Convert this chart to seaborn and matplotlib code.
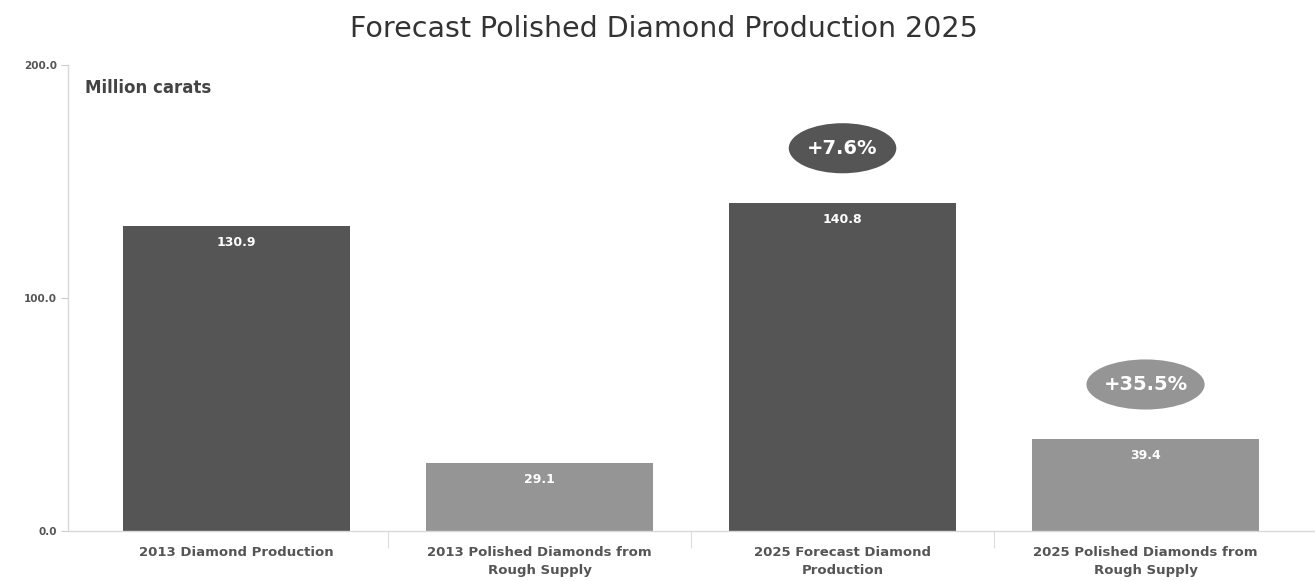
import matplotlib
matplotlib.use("Agg")
import matplotlib.pyplot as plt
from matplotlib.patches import Ellipse
from matplotlib.ticker import FixedLocator
import seaborn as sns
import pandas as pd

# Production figures, million carats
categories = [
    "2013 Diamond Production",
    "2013 Polished Diamonds from\nRough Supply",
    "2025 Forecast Diamond\nProduction",
    "2025 Polished Diamonds from\nRough Supply",
]
values = [130.9, 29.1, 140.8, 39.4]
value_labels = ["130.9", "29.1", "140.8", "39.4"]
growth_labels = ["+7.6%", "+35.5%"]
growth_index = [2, 3]
y_ticks = [0.0, 100.0, 200.0]

dark = "#555555"
light = "#959595"
bar_colors = [dark, light, dark, light]

sns.set_theme(style="white")
plt.rcParams["font.family"] = ["DejaVu Sans"]

df = pd.DataFrame({"category": categories, "value": values})

fig = plt.figure(figsize=(13.15, 5.81), dpi=100)
ax = fig.add_axes([0.052, 0.086, 0.947, 0.802])

sns.barplot(data=df, x="category", y="value", hue="category",
            palette=bar_colors, width=0.75, legend=False, ax=ax,
            saturation=1, edgecolor="none")

ax.set_xlim(-0.555, 3.555)
ax.set_ylim(0, 200)
ax.set_yticks(y_ticks)
ax.set_yticklabels([f"{t:.1f}" for t in y_ticks], fontsize=7.5,
                   fontweight="bold", color="#555555")
ax.tick_params(axis="y", length=5, width=0.8, color="#cccccc", pad=3, left=True)
ax.set_xticks(range(len(categories)))
ax.set_xticklabels(categories, fontsize=9.5, fontweight="bold", color="#555555",
                   linespacing=1.45)
ax.tick_params(axis="x", length=0, pad=11)
ax.xaxis.set_minor_locator(FixedLocator([0.5, 1.5, 2.5]))
ax.tick_params(axis="x", which="minor", length=12, width=0.8,
               color="#dddddd", bottom=True)
ax.set_xlabel("")
ax.set_ylabel("")

for side in ["top", "right"]:
    ax.spines[side].set_visible(False)
for side in ["left", "bottom"]:
    ax.spines[side].set_color("#d8d8d8")
    ax.spines[side].set_linewidth(1.0)

# Value labels just inside the top of each bar
for i, (v, lab) in enumerate(zip(values, value_labels)):
    ax.annotate(lab, xy=(i, v), xytext=(0, -12), textcoords="offset points",
                ha="center", va="center", color="white", fontsize=9,
                fontweight="bold")

# Growth badges above the 2025 bars
for idx, lab in zip(growth_index, growth_labels):
    color = bar_colors[idx]
    cy = values[idx] + 23.5
    w = 0.355 if len(lab) < 6 else 0.39
    ax.add_patch(Ellipse((idx, cy), width=w, height=21.5, facecolor=color,
                         edgecolor="none", zorder=3))
    ax.text(idx, cy, lab, ha="center", va="center", color="white",
            fontsize=14, fontweight="bold", zorder=4)

ax.text(0.013, 0.97, "Million carats", transform=ax.transAxes, ha="left",
        va="top", fontsize=12, fontweight="bold", color="#444444")

fig.suptitle("Forecast Polished Diamond Production 2025", x=0.505, y=0.975,
             fontsize=20.5, color="#333333")

fig.savefig("out.png", dpi=100, facecolor="white")
